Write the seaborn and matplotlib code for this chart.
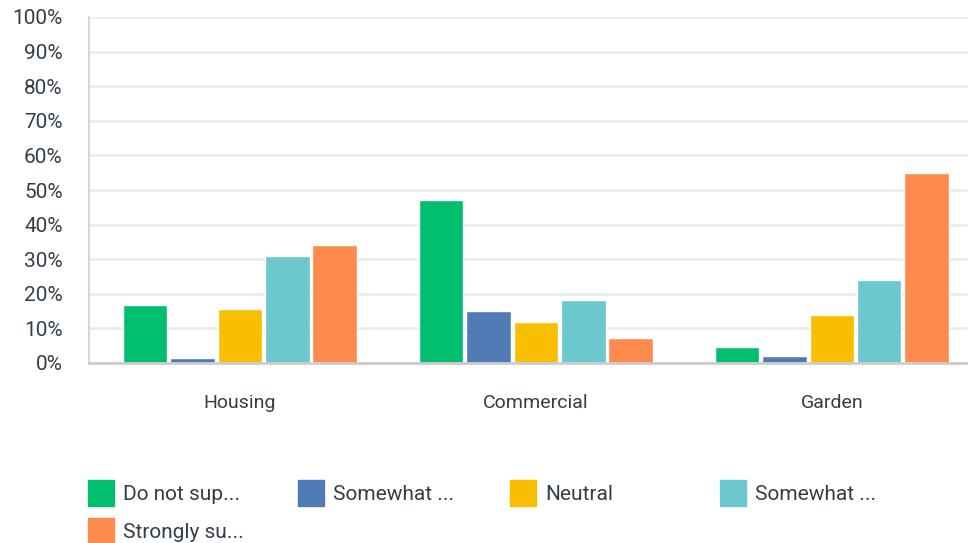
import pandas as pd
import seaborn as sns
import matplotlib.pyplot as plt
from matplotlib.lines import Line2D
from matplotlib.ticker import PercentFormatter

sns.set_theme(style='white')
plt.rcParams['font.family'] = ['Roboto', 'DejaVu Sans']

categories = ['Housing', 'Commercial', 'Garden']
answers = ['Do not sup...', 'Somewhat ...', 'Neutral', 'Somewhat ...',
           'Strongly su...']
answer_keys = ['Do not support', 'Somewhat oppose', 'Neutral',
               'Somewhat support', 'Strongly support']
colors = ['#00BF6F', '#507CB6', '#F9BE00', '#6BC8CD', '#FF8B4F']

do_not = [16.8, 47.1, 4.6]
somewhat_a = [1.4, 15.0, 2.0]
neutral = [15.6, 11.8, 13.9]
somewhat_b = [30.9, 18.2, 24.0]
strongly = [34.1, 7.2, 54.9]

series = [do_not, somewhat_a, neutral, somewhat_b, strongly]
rows = []
for key, vals in zip(answer_keys, series):
    for cat, v in zip(categories, vals):
        rows.append({'category': cat, 'answer': key, 'pct': v})
data = pd.DataFrame(rows)

text_color = '#333e48'

fig = plt.figure(figsize=(9.68, 5.43), dpi=100)
ax = fig.add_axes([89 / 968, 1 - 363 / 543, 1 - 89 / 968, 346 / 543])

sns.barplot(data=data, x='category', y='pct', hue='answer',
            hue_order=answer_keys, palette=colors, width=0.8, gap=0.06,
            saturation=1, legend=False, ax=ax)

ax.set_xlim(-0.51, 2.46)
ax.set_ylim(0, 100)
ax.set_yticks(range(0, 101, 10))
ax.yaxis.set_major_formatter(PercentFormatter(decimals=0))
ax.grid(axis='y', color='#ececec', linewidth=2)
ax.set_axisbelow(True)
ax.set_xlabel('')
ax.set_ylabel('')
for s in ['top', 'right']:
    ax.spines[s].set_visible(False)
ax.spines['left'].set_color('#d6d6d6')
ax.spines['left'].set_linewidth(1.5)
ax.spines['bottom'].set_color('#cccccc')
ax.spines['bottom'].set_linewidth(2)
ax.tick_params(axis='y', labelsize=15, labelcolor=text_color, pad=19, length=0)
ax.tick_params(axis='x', labelsize=14, labelcolor=text_color, pad=22, length=0)

# legend: one entry per slot, 4 per row on a fixed grid
slots = [(87, 485), (297, 485), (509, 485), (719, 485), (87, 523)]
for (x, y), label, c in zip(slots, answers, colors):
    h = Line2D([], [], linestyle='', marker='s', markersize=19,
               markerfacecolor=c, markeredgecolor=c)
    leg = fig.legend([h], [label], loc='upper left',
                     bbox_to_anchor=(x / 968, 1 - y / 543), frameon=False,
                     fontsize=15, handlelength=1.3, handletextpad=0.45,
                     borderaxespad=0, borderpad=0)
    for t in leg.get_texts():
        t.set_color(text_color)

plt.savefig('out.png', dpi=100)
